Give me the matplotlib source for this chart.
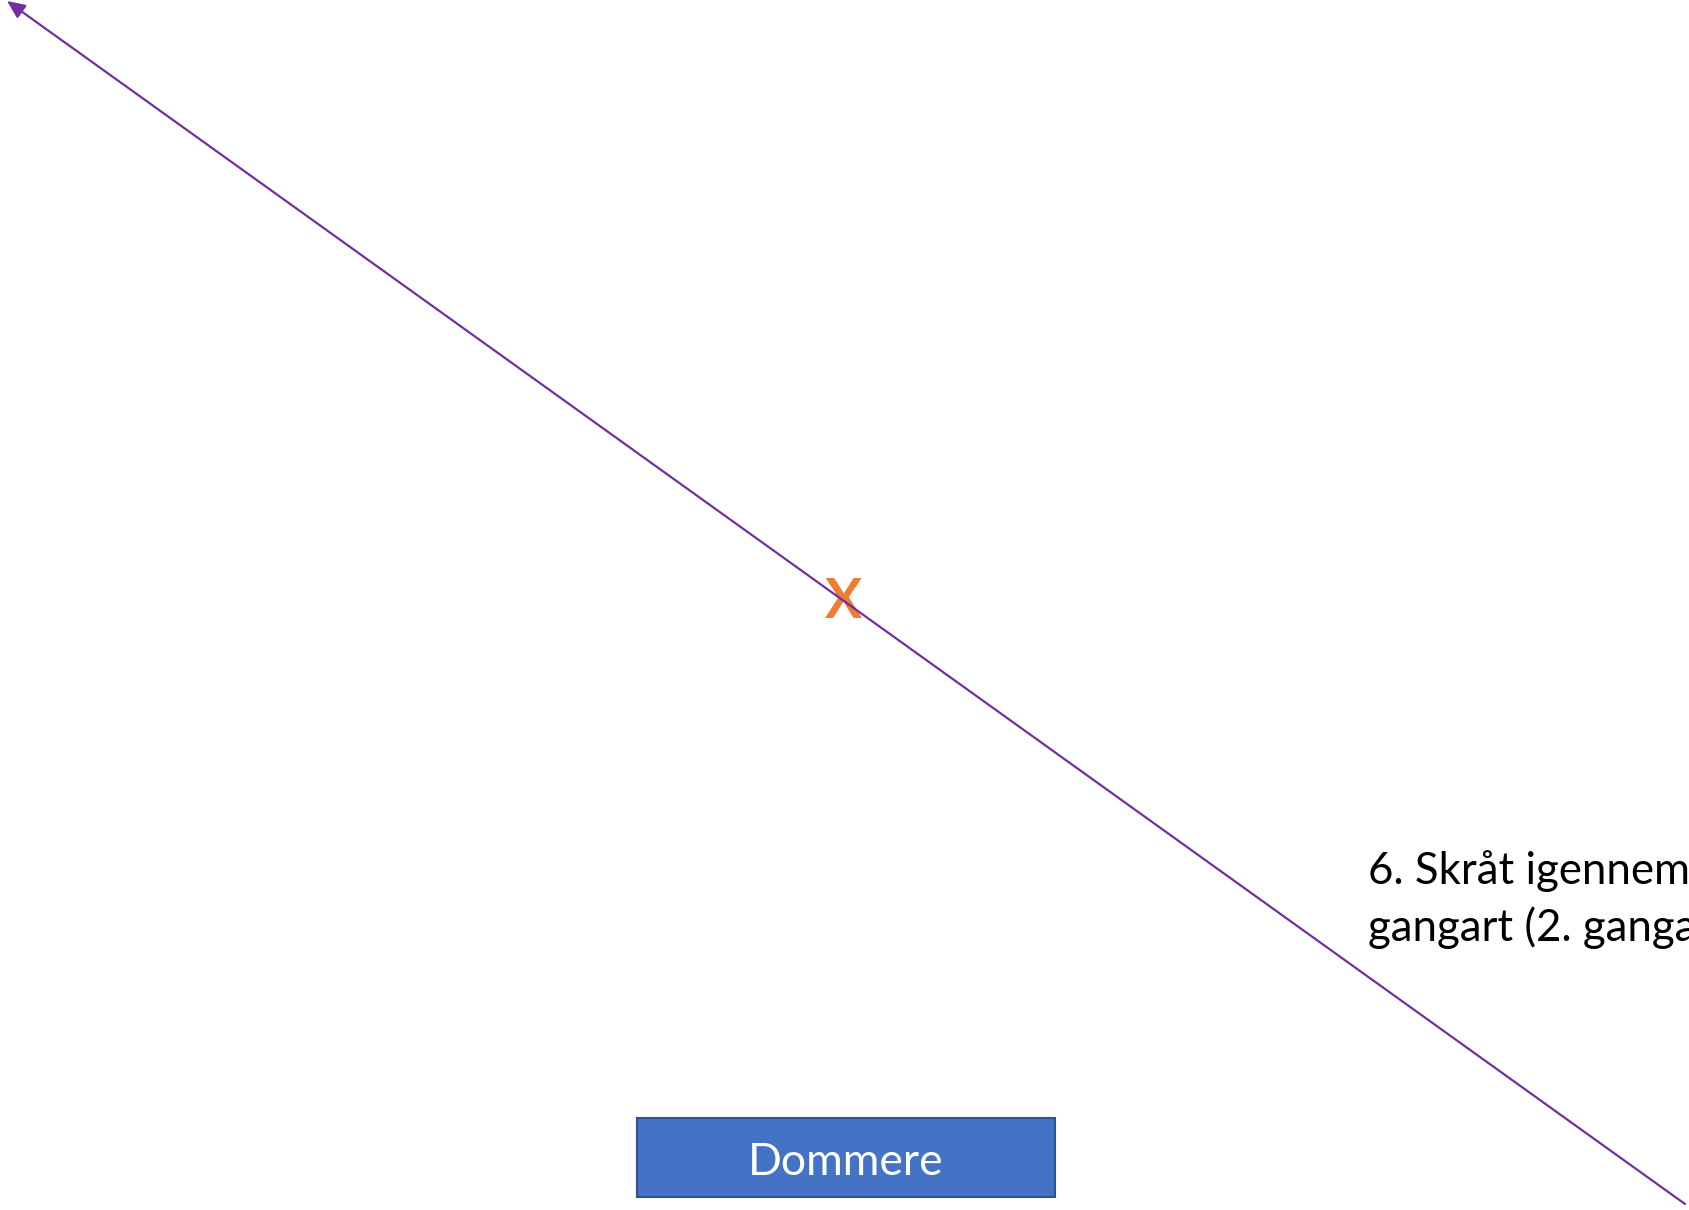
import matplotlib.pyplot as plt
from matplotlib.patches import Rectangle

# --- diagram data (pixel coordinates, origin top-left) ---
W, H = 1689, 1210
LINE_START = (1685, 1204)   # bottom-right end
LINE_END = (7, 1)           # arrow tip, top-left
X_MARK = (844, 618)         # baseline of the X
X_LABEL = "X"
BOX_XY = (637, 1118)
BOX_W, BOX_H = 418, 79
BOX_LABEL = "Dommere"
BOX_BASELINE = 1175
NOTE_X = 1368
NOTE_BASELINES = [884, 941]
NOTE_LINES = ["6. Skråt igennem", "gangart (2. gangart)"]

PURPLE = "#7030A0"
ORANGE = "#ED7D31"
BLUE = "#4472C4"
BLUE_EDGE = "#2F528F"

plt.rcParams['font.family'] = ['Lato', 'DejaVu Sans']

fig = plt.figure(figsize=(W / 100, H / 100), dpi=100)
ax = fig.add_axes([0, 0, 1, 1])
ax.set_xlim(0, W)
ax.set_ylim(H, 0)
ax.axis('off')

# diagonal line with arrow at top-left
ax.annotate("", xy=LINE_END, xytext=LINE_START,
            arrowprops=dict(arrowstyle='-|>,head_length=0.9,head_width=0.4',
                            color=PURPLE, lw=1.6, mutation_scale=12,
                            shrinkA=0, shrinkB=0))

# orange X
ax.text(X_MARK[0], X_MARK[1], X_LABEL, color=ORANGE, fontsize=40,
        fontweight='bold', ha='center', va='baseline', zorder=1)

# judges box
ax.add_patch(Rectangle(BOX_XY, BOX_W, BOX_H, facecolor=BLUE,
                       edgecolor=BLUE_EDGE, lw=1.5))
ax.text(BOX_XY[0] + BOX_W / 2, BOX_BASELINE, BOX_LABEL,
        color='white', fontsize=32, ha='center', va='baseline')

# movement description (runs off the right edge, as in the original slide)
for line, yb in zip(NOTE_LINES, NOTE_BASELINES):
    ax.text(NOTE_X, yb, line, color='black', fontsize=31.5,
            ha='left', va='baseline', clip_on=False)

fig.savefig("out.png", dpi=100)
